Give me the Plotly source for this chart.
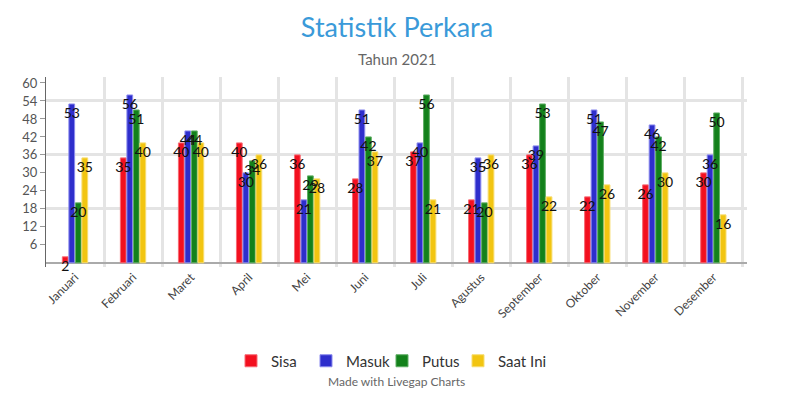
import plotly.graph_objects as go

months = ["Januari", "Februari", "Maret", "April", "Mei", "Juni", "Juli",
          "Agustus", "September", "Oktober", "November", "Desember"]
sisa = [2, 35, 40, 40, 36, 28, 37, 21, 36, 22, 26, 30]
masuk = [53, 56, 44, 30, 21, 51, 40, 35, 39, 51, 46, 36]
putus = [20, 51, 44, 34, 29, 42, 56, 20, 53, 47, 42, 50]
saat_ini = [35, 40, 40, 36, 28, 37, 21, 36, 22, 26, 30, 16]
y_ticks = [6, 12, 18, 24, 30, 36, 42, 48, 54, 60]

series = [
    ("Sisa", sisa, "#f3101f", "#f76a74"),
    ("Masuk", masuk, "#2e2ecc", "#8a8aee"),
    ("Putus", putus, "#13811b", "#5fae64"),
    ("Saat Ini", saat_ini, "#f2c511", "#f7dd70"),
]
legend_left_px = [231, 306, 382, 458]

FONT = "Lato"
W, H = 794, 400
M_L, M_R, M_T, M_B = 46, 47, 77, 133
PW = W - M_L - M_R
PH = H - M_T - M_B


def py(pix):
    """pixel row (from top) -> paper y"""
    return (H - M_B - pix) / PH


def px(pix):
    """pixel column -> paper x"""
    return (pix - M_L) / PW


fig = go.Figure()
legend_ids = ["legend", "legend2", "legend3", "legend4"]
# coloured bars
for i, (name, vals, col, edge) in enumerate(series):
    fig.add_trace(go.Bar(
        name=name, x=months, y=vals, offsetgroup=str(i),
        marker=dict(color=col, line=dict(color=edge, width=1)),
        legend=legend_ids[i], hoverinfo="skip",
    ))
# transparent twins carrying the value labels, drawn on top of all bars
for i, (name, vals, col, edge) in enumerate(series):
    fig.add_trace(go.Bar(
        name=name, x=months, y=vals, offsetgroup=str(i),
        marker=dict(color="rgba(0,0,0,0)", line=dict(width=0)),
        text=[str(v) for v in vals],
        textposition="inside", insidetextanchor="end",
        constraintext="none", textangle=0, cliponaxis=False,
        textfont=dict(family=FONT, size=14, color="#111111"),
        showlegend=False,
    ))

# invisible trace on overlay axis to draw the wide horizontal gridlines
fig.add_trace(go.Scatter(x=months, y=[None] * len(months), yaxis="y2",
                         showlegend=False, hoverinfo="skip"))

legend_style = dict(orientation="h", xanchor="left", yanchor="middle",
                    y=py(361), font=dict(family=FONT, size=15, color="#333333"),
                    itemwidth=30, bgcolor="rgba(0,0,0,0)")

fig.update_layout(
    width=W, height=H,
    margin=dict(l=M_L, r=M_R, t=M_T, b=M_B),
    paper_bgcolor="white", plot_bgcolor="white",
    barmode="group", bargap=0.55, bargroupgap=0.12,
    font=dict(family=FONT, color="#555555"),
    title=dict(text="Statistik Perkara", x=0.5, xanchor="center",
               y=1 - 28 / H, yanchor="middle",
               font=dict(family=FONT, size=27, color="#3a9ad9")),
    xaxis=dict(
        type="category", tickson="boundaries",
        showgrid=True, gridcolor="#e4e4e4", gridwidth=3,
        tickangle=-45, tickfont=dict(family=FONT, size=12, color="#444444"),
        ticks="", showline=False, range=[-0.5, 11.58],
    ),
    yaxis=dict(
        range=[-1.4, 62], tickvals=y_ticks, ticktext=[str(v) for v in y_ticks],
        showgrid=False, zeroline=True, zerolinecolor="#aaaaaa", zerolinewidth=2,
        showline=True, linecolor="#666666", linewidth=1,
        ticks="outside", ticklen=5, tickcolor="#999999",
        tickfont=dict(family=FONT, size=13, color="#555555"),
    ),
    yaxis2=dict(
        overlaying="y", range=[-1.4, 62], tickvals=[18, 36, 54],
        showgrid=True, gridcolor="#e4e4e4", gridwidth=3,
        showticklabels=False, zeroline=False, ticks="",
    ),
    annotations=[
        dict(text="Tahun 2021", x=0.5, y=py(59), xref="paper", yref="paper",
             yanchor="middle", showarrow=False,
             font=dict(family=FONT, size=15, color="#666666")),
        dict(text="Made with Livegap Charts", x=0.5, y=py(381), xref="paper",
             yref="paper", yanchor="middle", showarrow=False,
             font=dict(family=FONT, size=12, color="#666666")),
    ],
)
for lid, lx in zip(legend_ids, legend_left_px):
    fig.update_layout({lid: dict(legend_style, x=px(lx))})

fig.write_html("out.html")
